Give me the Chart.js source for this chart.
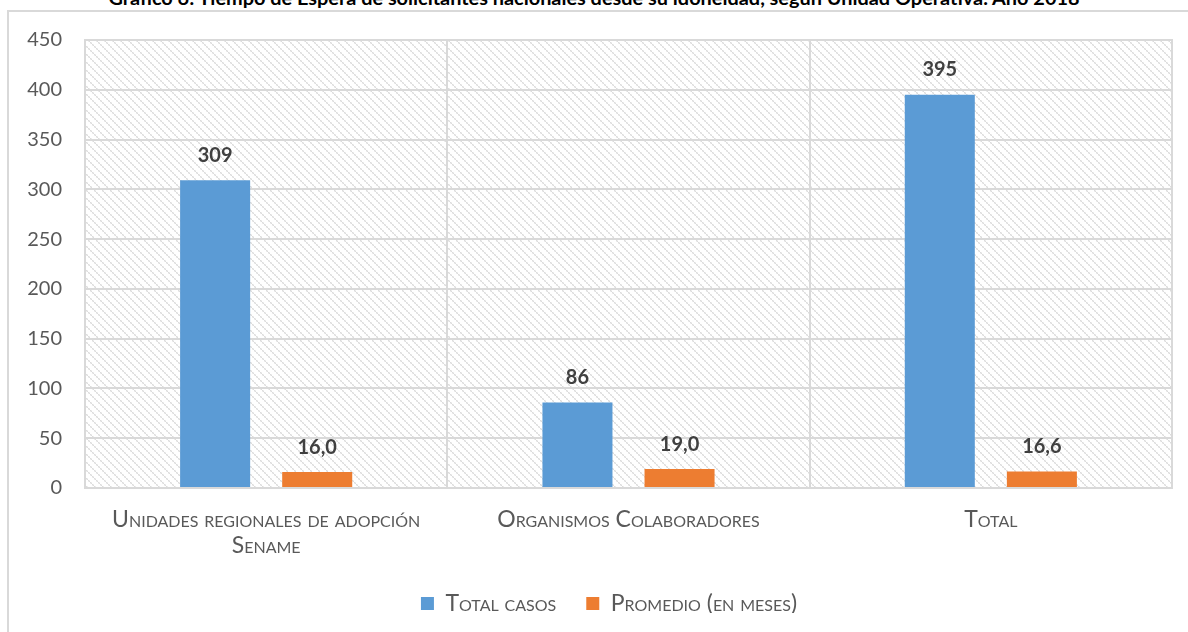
<!DOCTYPE html>
<html>
<head>
<meta charset="utf-8">
<script src="https://cdn.jsdelivr.net/npm/chart.js@4"></script>
<style>
  html, body { margin: 0; padding: 0; background: #fff; overflow: hidden; }
  #wrap { position: relative; width: 1188px; height: 632px; }
  #frame { position: absolute; left: 7px; top: 10px; width: 1300px; height: 800px; border: 2px solid #d9d9d9; box-sizing: border-box; }
  #title { position: absolute; left: 0; width: 1188px; top: -15px; line-height: 24px; text-align: center; font: bold 19.9px Lato, sans-serif; color: #000; white-space: nowrap; }
  canvas { position: absolute; left: 0; top: 0; }
</style>
</head>
<body>
<div id="wrap">
  <div id="frame"></div>
  <div id="title">Gráfico 6: Tiempo de Espera de solicitantes nacionales desde su idoneidad, según Unidad Operativa. Año 2018</div>
  <canvas id="c" width="1188" height="613"></canvas>
</div>
<script>
const categories = [["Unidades regionales de adopción", "Sename"], "Organismos Colaboradores", "Total"];
const totalCasos = [309, 86, 395];
const promedioMeses = [16.0, 19.0, 16.6];
const seriesNames = ["Total casos", "Promedio (en meses)"];
const yTicks = [0, 50, 100, 150, 200, 250, 300, 350, 400, 450];

const FONT = "Lato, 'Open Sans', sans-serif";
const SC_FONT = "Lato, scmark, sans-serif";

const smallCapsPlugin = {
  id: 'smallcaps',
  beforeInit(chart) {
    const ctx = chart.ctx;
    const wrap = (name) => {
      const orig = ctx[name];
      ctx[name] = function (...args) {
        this.fontVariantCaps = /scmark/.test(this.font) ? 'small-caps' : 'normal';
        return orig.apply(this, args);
      };
    };
    wrap('fillText');
    wrap('measureText');
  },
  afterLayout(chart) {
    if (chart.legend) chart.legend.left = 46;
  }
};

const hatchPlugin = {
  id: 'hatch',
  beforeDraw(chart) {
    const {ctx, chartArea: a} = chart;
    const t = document.createElement('canvas');
    t.width = 8; t.height = 8;
    const tc = t.getContext('2d');
    tc.fillStyle = '#dcdcdc';
    for (let i = 0; i < 8; i++) {
      if (i % 2 === 0) tc.fillRect(i, i, 1.5, 1.5);
      else tc.fillRect(i, i, 1, 1);
    }
    ctx.save();
    ctx.fillStyle = ctx.createPattern(t, 'repeat');
    ctx.fillRect(a.left, a.top, a.right - a.left, a.bottom - a.top);
    ctx.restore();
  },
  afterDraw(chart) {
    const {ctx, chartArea: a} = chart;
    ctx.save();
    ctx.strokeStyle = '#d9d9d9';
    ctx.lineWidth = 2;
    ctx.strokeRect(a.left, a.top, a.right - a.left, a.bottom - a.top);
    ctx.restore();
  }
};

const labelPlugin = {
  id: 'vals',
  afterDatasetsDraw(chart) {
    const ctx = chart.ctx;
    ctx.save();
    ctx.font = "bold 20px " + FONT;
    ctx.fillStyle = '#404040';
    ctx.textAlign = 'center';
    ctx.textBaseline = 'middle';
    chart.data.datasets.forEach((ds, di) => {
      const meta = chart.getDatasetMeta(di);
      meta.data.forEach((bar, i) => {
        const v = ds.data[i];
        const txt = di === 0 ? String(v) : v.toFixed(1).replace('.', ',');
        ctx.fillText(txt, bar.x, bar.y - 25);
      });
    });
    ctx.restore();
  }
};

new Chart(document.getElementById('c'), {
  type: 'bar',
  data: {
    labels: categories,
    datasets: [
      { label: seriesNames[0], data: totalCasos, backgroundColor: '#5B9BD5', categoryPercentage: 0.5635, barPercentage: 0.686 },
      { label: seriesNames[1], data: promedioMeses, backgroundColor: '#ED7D31', categoryPercentage: 0.5635, barPercentage: 0.686 }
    ]
  },
  options: {
    responsive: false,
    animation: false,
    devicePixelRatio: 1,
    layout: { padding: { top: 40, right: 16, left: 0, bottom: -12 } },
    plugins: {
      legend: {
        position: 'bottom',
        labels: {
          boxWidth: 13, boxHeight: 13, padding: 30,
          color: '#595959',
          font: { family: SC_FONT, size: 23 }
        }
      },
      tooltip: { enabled: false }
    },
    scales: {
      x: {
        offset: true,
        grid: { offset: true, color: '#d9d9d9', lineWidth: 2, drawTicks: false },
        border: { display: true, color: '#d9d9d9', width: 2 },
        ticks: { color: '#595959', padding: 19, maxRotation: 0, font: { family: SC_FONT, size: 23, lineHeight: 1.13 } },
        afterFit(s) { s.height = 74; }
      },
      y: {
        min: 0, max: 450,
        afterBuildTicks(s) { s.ticks = yTicks.map(v => ({ value: v })); },
        grid: { color: '#d9d9d9', lineWidth: 2, drawTicks: false },
        border: { display: true, color: '#d9d9d9', width: 2 },
        ticks: { color: '#595959', padding: 23, font: { family: FONT, size: 20 } },
        afterFit(s) { s.width = 85; }
      }
    }
  },
  plugins: [smallCapsPlugin, hatchPlugin, labelPlugin]
});
</script>
</body>
</html>
